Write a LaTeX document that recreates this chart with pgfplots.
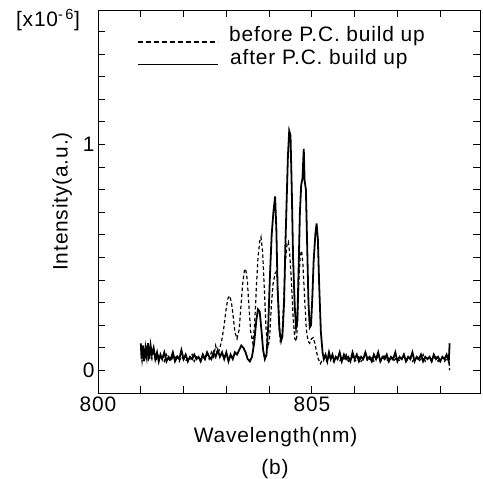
\documentclass[border=0pt]{standalone}
\usepackage{fontspec}
\setmainfont[LetterSpace=4]{Liberation Sans}
\usepackage{pgfplots}
\pgfplotsset{compat=1.18}
\newcommand{\bigf}{\fontsize{21}{25}\selectfont}
\begin{document}
\begin{tikzpicture}
\begin{axis}[
  name=ax,
  scale only axis,
  width=382bp, height=383bp,
  xmin=800, xmax=808.93,
  ymin=-0.1, ymax=1.595,
  axis line style={line width=0.9bp},
  tick align=inside,
  tick style={line width=0.9bp, black},
  major tick length=7bp,
  xtick={800,801,802,803,804,805,806,807,808},
  xticklabels={800,,,,,805,,,},
  ytick={0,0.1,0.2,0.3,0.4,0.5,0.6,0.7,0.8,0.9,1,1.1,1.2,1.3,1.4,1.5},
  yticklabels={0,,,,,,,,,,1,,,,,},
  /pgf/number format/assume math mode=true,
  ticklabel style={font=\bigf},
  label style={font=\bigf},
  xlabel={Wavelength(nm)},
  ylabel={Intensity(a.u.)},
  xlabel style={at={(axis description cs:0.465,-0.115)}, anchor=center},
  ylabel style={at={(axis description cs:-0.094,0.5)}, anchor=center},
]
% before P.C. build up (dashed)
\addplot[black, line width=1.2bp, dash pattern=on 3.5bp off 2.5bp] coordinates {
(801.00,0.10) (801.03,0.04) (801.06,0.09) (801.10,0.05) (801.14,0.11) (801.18,0.04)
(801.22,0.08) (801.26,0.05) (801.30,0.09) (801.35,0.04) (801.40,0.07) (801.45,0.05)
(801.50,0.06) (801.55,0.04) (801.60,0.07) (801.65,0.05) (801.70,0.04) (801.75,0.06)
(801.80,0.05) (801.85,0.07) (801.90,0.04) (801.95,0.06) (802.00,0.05) (802.05,0.04)
(802.10,0.06) (802.15,0.05) (802.20,0.07) (802.25,0.04) (802.30,0.06) (802.35,0.05)
(802.40,0.04) (802.45,0.06) (802.50,0.05) (802.55,0.07) (802.60,0.05) (802.65,0.08)
(802.70,0.06) (802.75,0.11) (802.80,0.07) (802.85,0.10) (802.90,0.14) (802.95,0.20)
(803.00,0.28) (803.04,0.32) (803.08,0.33) (803.12,0.30) (803.16,0.24) (803.20,0.17)
(803.25,0.14) (803.30,0.18) (803.34,0.28) (803.38,0.38) (803.42,0.44) (803.45,0.45)
(803.49,0.40) (803.53,0.28) (803.57,0.17) (803.62,0.12) (803.66,0.20) (803.70,0.36)
(803.74,0.50) (803.78,0.57) (803.81,0.59) (803.85,0.52) (803.89,0.35) (803.93,0.18)
(803.97,0.10) (804.01,0.14) (804.05,0.28) (804.09,0.38) (804.14,0.43) (804.18,0.44)
(804.22,0.30) (804.26,0.13) (804.30,0.14) (804.34,0.30) (804.38,0.48) (804.42,0.56)
(804.45,0.57) (804.48,0.52) (804.52,0.40) (804.56,0.24) (804.60,0.14) (804.64,0.13)
(804.67,0.25) (804.70,0.42) (804.73,0.51) (804.76,0.53) (804.79,0.47) (804.83,0.32)
(804.87,0.18) (804.91,0.13) (804.95,0.12) (804.99,0.14) (805.03,0.145) (805.07,0.12)
(805.11,0.08) (805.15,0.05) (805.20,0.03) (805.25,0.05) (805.30,0.06) (805.35,0.04)
(805.40,0.06) (805.45,0.05) (805.50,0.04) (805.55,0.06) (805.60,0.05) (805.65,0.04)
(805.70,0.06) (805.75,0.05) (805.80,0.07) (805.85,0.04) (805.90,0.05) (805.95,0.06)
(806.00,0.04) (806.05,0.05) (806.10,0.06) (806.15,0.04) (806.20,0.05) (806.25,0.07)
(806.30,0.04) (806.35,0.05) (806.40,0.06) (806.45,0.04) (806.50,0.05) (806.55,0.06)
(806.60,0.04) (806.65,0.05) (806.70,0.07) (806.75,0.04) (806.80,0.05) (806.85,0.06)
(806.90,0.04) (806.95,0.05) (807.00,0.06) (807.05,0.04) (807.10,0.05) (807.15,0.07)
(807.20,0.04) (807.25,0.05) (807.30,0.06) (807.35,0.04) (807.40,0.05) (807.45,0.06)
(807.50,0.04) (807.55,0.05) (807.60,0.07) (807.65,0.04) (807.70,0.05) (807.75,0.06)
(807.80,0.04) (807.85,0.05) (807.90,0.06) (807.95,0.04) (808.00,0.05) (808.05,0.06)
(808.10,0.04) (808.15,0.05) (808.20,0.06) (808.22,0.00)
};
% after P.C. build up (solid)
\addplot[black, line width=1.8bp] coordinates {
(801.00,0.12) (801.02,0.05) (801.05,0.11) (801.08,0.04) (801.11,0.10) (801.14,0.06)
(801.17,0.12) (801.20,0.05) (801.23,0.11) (801.26,0.07) (801.30,0.10) (801.34,0.05)
(801.38,0.08) (801.42,0.04) (801.46,0.07) (801.50,0.05) (801.55,0.08) (801.60,0.04)
(801.65,0.06) (801.70,0.05) (801.75,0.08) (801.80,0.04) (801.85,0.06) (801.90,0.05)
(801.95,0.09) (802.00,0.05) (802.05,0.07) (802.10,0.04) (802.15,0.06) (802.20,0.05)
(802.25,0.07) (802.30,0.05) (802.35,0.06) (802.40,0.04) (802.45,0.07) (802.50,0.05)
(802.55,0.08) (802.60,0.06) (802.65,0.05) (802.70,0.08) (802.75,0.06) (802.80,0.09)
(802.85,0.06) (802.90,0.08) (802.95,0.05) (803.00,0.08) (803.05,0.04) (803.10,0.07)
(803.15,0.05) (803.20,0.08) (803.25,0.07) (803.30,0.09) (803.35,0.11) (803.40,0.10)
(803.45,0.08) (803.50,0.05) (803.55,0.04) (803.60,0.06) (803.65,0.12) (803.70,0.22)
(803.74,0.27) (803.78,0.26) (803.82,0.18) (803.86,0.09) (803.90,0.05) (803.94,0.07)
(803.98,0.20) (804.02,0.42) (804.06,0.60) (804.10,0.70) (804.14,0.77) (804.17,0.62)
(804.20,0.35) (804.24,0.18) (804.28,0.13) (804.31,0.15) (804.35,0.30) (804.38,0.55)
(804.41,0.75) (804.44,0.95) (804.47,1.06) (804.50,1.04) (804.53,0.80) (804.56,0.50)
(804.60,0.28) (804.63,0.19) (804.66,0.22) (804.69,0.45) (804.72,0.70) (804.75,0.82)
(804.78,0.85) (804.81,0.98) (804.83,0.84) (804.86,0.80) (804.89,0.55) (804.92,0.30)
(804.95,0.19) (804.98,0.20) (805.01,0.32) (805.04,0.48) (805.08,0.60) (805.11,0.65)
(805.14,0.58) (805.17,0.38) (805.21,0.17) (805.25,0.08) (805.28,0.05) (805.32,0.07)
(805.36,0.04) (805.40,0.08) (805.44,0.05) (805.48,0.07) (805.52,0.04) (805.56,0.06)
(805.60,0.05) (805.65,0.08) (805.70,0.04) (805.75,0.07) (805.80,0.05) (805.85,0.06)
(805.90,0.04) (805.95,0.08) (806.00,0.05) (806.05,0.07) (806.10,0.04) (806.15,0.06)
(806.20,0.05) (806.25,0.08) (806.30,0.05) (806.35,0.06) (806.40,0.04) (806.45,0.07)
(806.50,0.05) (806.55,0.08) (806.60,0.04) (806.65,0.06) (806.70,0.05) (806.75,0.07)
(806.80,0.04) (806.85,0.06) (806.90,0.05) (806.95,0.08) (807.00,0.04) (807.05,0.06)
(807.10,0.05) (807.15,0.07) (807.20,0.04) (807.25,0.06) (807.30,0.05) (807.35,0.08)
(807.40,0.04) (807.45,0.06) (807.50,0.05) (807.55,0.07) (807.60,0.04) (807.65,0.06)
(807.70,0.05) (807.75,0.06) (807.80,0.04) (807.85,0.07) (807.90,0.05) (807.95,0.06)
(808.00,0.04) (808.05,0.06) (808.10,0.05) (808.15,0.07) (808.20,0.04) (808.22,0.12)
};
\end{axis}
% legend
\draw[black, line width=1.3bp, dash pattern=on 5bp off 3bp]
  ([xshift=40bp,yshift=-32bp]ax.north west) -- ++(80bp,0);
\node[anchor=base west, inner sep=0pt, font=\bigf] at ([xshift=131bp,yshift=-32bp]ax.north west) {before P.C. build up};
\draw[black, line width=1bp]
  ([xshift=40bp,yshift=-55bp]ax.north west) -- ++(80bp,0);
\node[anchor=base west, inner sep=0pt, font=\bigf] at ([xshift=132bp,yshift=-55bp]ax.north west) {after P.C. build up};
% exponent
\node[anchor=center, inner sep=0pt, font=\bigf] at ([xshift=-50bp,yshift=-10bp]ax.north west) {[x10\textsuperscript{-\,6}]};
% panel label
\node[anchor=center, inner sep=0pt, font=\bigf] at ([xshift=177bp,yshift=-76bp]ax.south west) {(b)};
\path[use as bounding box] ([xshift=-98bp,yshift=-86bp]ax.south west) rectangle ([xshift=3bp,yshift=10bp]ax.north east);
\end{tikzpicture}
\end{document}
